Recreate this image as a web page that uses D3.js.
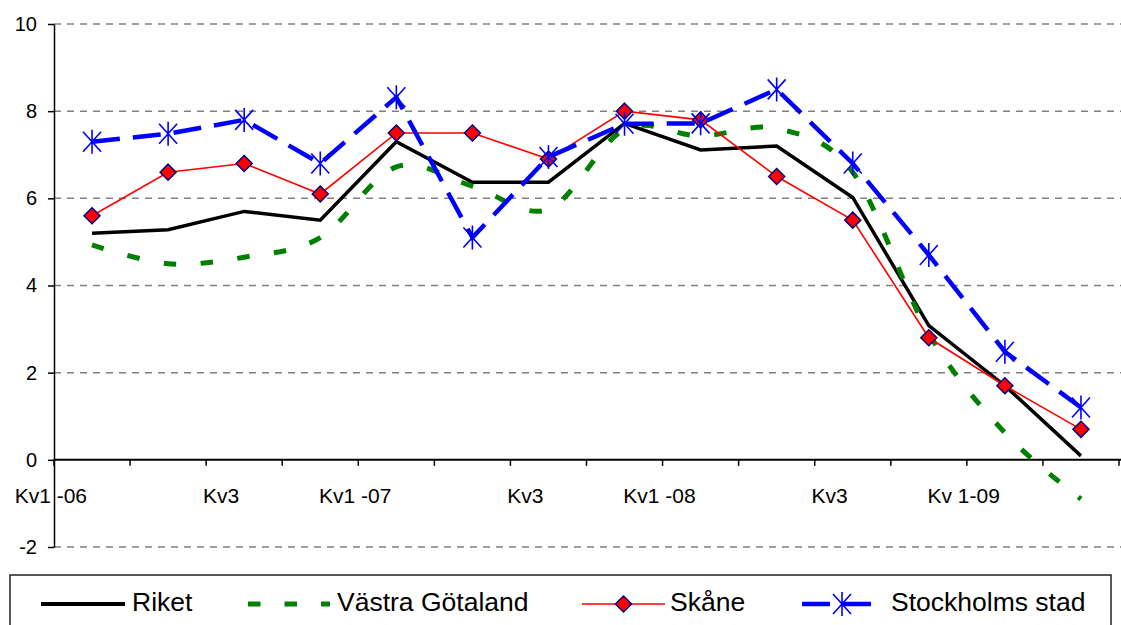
<!DOCTYPE html>
<html>
<head>
<meta charset="utf-8" />
<style>
body {
  margin: 0;
  background-color: white;
}
svg {
  display: block;
  font-family: "Liberation Sans", Arial, sans-serif;
}
.grid line {
  stroke: #808080;
  stroke-width: 1.5;
  stroke-dasharray: 7 6;
}
.axis path,
.axis line {
  fill: none;
  stroke: black;
}
</style>
<script src="https://cdnjs.cloudflare.com/ajax/libs/d3/7.8.5/d3.min.js"></script>
</head>
<body>
<div id="chart"></div>
<script>
// quarters 2006 - 2009, only every other one is labelled on the axis
var quarters = ["Kv1-06", "Kv2-06", "Kv3-06", "Kv4-06", "Kv1-07", "Kv2-07", "Kv3-07",
                "Kv4-07", "Kv1-08", "Kv2-08", "Kv3-08", "Kv4-08", "Kv1-09", "Kv2-09"];
var tickLabels = ["Kv1 -06", "", "Kv3", "", "Kv1 -07", "", "Kv3", "", "Kv1 -08", "", "Kv3", "", "Kv 1-09", ""];
var yTicks = [-2, 0, 2, 4, 6, 8, 10];

var riket          = [5.2, 5.28, 5.7, 5.5, 7.3, 6.37, 6.37, 7.72, 7.11, 7.2, 6.02, 3.08, 1.7, 0.09];
var vastraGotaland = [4.93, 4.5, 4.65, 5.1, 6.72, 6.28, 5.75, 7.58, 7.43, 7.6, 6.6, 2.9, 0.62, -0.9];
var skane          = [5.6, 6.6, 6.8, 6.1, 7.5, 7.5, 6.9, 8.0, 7.8, 6.5, 5.5, 2.8, 1.7, 0.7];
var stockholm      = [7.3, 7.48, 7.8, 6.8, 8.32, 5.1, 6.95, 7.71, 7.72, 8.5, 6.8, 4.7, 2.48, 1.2];

var seriesNames = ["Riket", "Västra Götaland", "Skåne", "Stockholms stad"];

var width = 1121, height = 625;

var svg = d3.select("#chart").append("svg")
  .attr("width", width)
  .attr("height", height);

var x = d3.scaleBand()
  .domain(d3.range(quarters.length))
  .range([54, 1119]);

var y = d3.scaleLinear()
  .domain([-2, 10])
  .range([547, 24]);

// dashed grid lines (0 is the axis itself)
svg.append("g")
  .attr("class", "grid")
  .selectAll("line")
  .data(yTicks.filter(function(d) { return d !== 0; }))
  .enter().append("line")
  .attr("x1", 54)
  .attr("x2", width)
  .attr("y1", function(d) { return y(d); })
  .attr("y2", function(d) { return y(d); });

// y axis
var yAxis = svg.append("g")
  .attr("class", "axis")
  .attr("transform", "translate(54,0)")
  .call(d3.axisLeft(y).tickValues(yTicks).tickSize(6).tickPadding(11).tickSizeOuter(0)
    .tickFormat(function(d) { return String(d); }));
yAxis.select(".domain").attr("stroke-width", 1.5);
yAxis.selectAll(".tick line").attr("stroke-width", 1.5);
yAxis.selectAll("text")
  .attr("fill", "black")
  .attr("font-size", "20px")
  .attr("font-family", "Liberation Sans, Arial, sans-serif");

// x axis at zero, ticks between categories
svg.append("line")
  .attr("x1", 54)
  .attr("x2", width)
  .attr("y1", y(0))
  .attr("y2", y(0))
  .attr("stroke", "black")
  .attr("stroke-width", 2);

svg.append("g")
  .selectAll("line")
  .data(d3.range(quarters.length + 1))
  .enter().append("line")
  .attr("x1", function(i) { return 54 + i * x.step(); })
  .attr("x2", function(i) { return 54 + i * x.step(); })
  .attr("y1", y(0))
  .attr("y2", y(0) + 6)
  .attr("stroke", "black")
  .attr("stroke-width", 1.5);

svg.append("g")
  .selectAll("text")
  .data(tickLabels)
  .enter().append("text")
  .attr("x", function(d, i) { return x(i) + x.bandwidth() / 2 - 5; })
  .attr("y", 503)
  .attr("text-anchor", "end")
  .attr("font-size", "21px")
  .text(function(d) { return d; });

var cx = function(d, i) { return x(i) + x.bandwidth() / 2; };

var line = d3.line()
  .x(cx)
  .y(function(d) { return y(d); });

var smooth = d3.line()
  .x(cx)
  .y(function(d) { return y(d); })
  .curve(d3.curveCardinal.tension(0));

svg.append("path")
  .datum(riket)
  .attr("d", line)
  .attr("fill", "none")
  .attr("stroke", "black")
  .attr("stroke-width", 3.5)
  .attr("stroke-linejoin", "miter");

svg.append("path")
  .datum(vastraGotaland)
  .attr("d", smooth)
  .attr("fill", "none")
  .attr("stroke", "#008000")
  .attr("stroke-width", 5)
  .attr("stroke-dasharray", "12.5 24.5");

svg.append("path")
  .datum(skane)
  .attr("d", line)
  .attr("fill", "none")
  .attr("stroke", "#ff0000")
  .attr("stroke-width", 1.6);

var diamond = "M0,-8L8,0L0,8L-8,0Z";
var star = "M-9,-10L9,10M-9,10L9,-10M0,-12L0,12";

svg.append("g")
  .selectAll("path")
  .data(skane)
  .enter().append("path")
  .attr("transform", function(d, i) { return "translate(" + cx(d, i) + "," + y(d) + ")"; })
  .attr("d", diamond)
  .attr("fill", "#ff0000")
  .attr("stroke", "#000080")
  .attr("stroke-width", 1.5);

svg.append("path")
  .datum(stockholm)
  .attr("d", line)
  .attr("fill", "none")
  .attr("stroke", "#0000ff")
  .attr("stroke-width", 4.5)
  .attr("stroke-dasharray", "28 13");

svg.append("g")
  .selectAll("path")
  .data(stockholm)
  .enter().append("path")
  .attr("transform", function(d, i) { return "translate(" + cx(d, i) + "," + y(d) + ")"; })
  .attr("d", star)
  .attr("fill", "none")
  .attr("stroke", "#0000ff")
  .attr("stroke-width", 1.6);

// legend
var legendY = 604;
svg.append("rect")
  .attr("x", 10)
  .attr("y", 575)
  .attr("width", 1101)
  .attr("height", 70)
  .attr("fill", "white")
  .attr("stroke", "#222")
  .attr("stroke-width", 1.5);

var legendItems = [
  { x1: 41, x2: 125, tx: 132, stroke: "black", w: 4, dash: null, marker: null },
  { x1: 248, x2: 330, tx: 337, stroke: "#008000", w: 5, dash: "12.5 24", marker: null },
  { x1: 582, x2: 665, tx: 670, stroke: "#ff0000", w: 1.6, dash: null, marker: "diamond" },
  { x1: 802, x2: 875, tx: 891, stroke: "#0000ff", w: 4.5, dash: "28 13", marker: "star" }
];

var lg = svg.append("g")
  .selectAll("g")
  .data(legendItems)
  .enter().append("g");

lg.append("line")
  .attr("x1", function(d) { return d.x1; })
  .attr("x2", function(d) { return d.x2; })
  .attr("y1", legendY)
  .attr("y2", legendY)
  .attr("stroke", function(d) { return d.stroke; })
  .attr("stroke-width", function(d) { return d.w; })
  .attr("stroke-dasharray", function(d) { return d.dash; });

lg.filter(function(d) { return d.marker === "diamond"; })
  .append("path")
  .attr("transform", function(d) { return "translate(" + (d.x1 + d.x2) / 2 + "," + legendY + ")"; })
  .attr("d", diamond)
  .attr("fill", "#ff0000")
  .attr("stroke", "#000080")
  .attr("stroke-width", 1.5);

lg.filter(function(d) { return d.marker === "star"; })
  .append("path")
  .attr("transform", function(d) { return "translate(842," + legendY + ")"; })
  .attr("d", star)
  .attr("fill", "none")
  .attr("stroke", "#0000ff")
  .attr("stroke-width", 1.6);

lg.append("text")
  .attr("x", function(d) { return d.tx; })
  .attr("y", 611)
  .attr("font-size", "26.5px")
  .text(function(d, i) { return seriesNames[i]; });
</script>
</body>
</html>
